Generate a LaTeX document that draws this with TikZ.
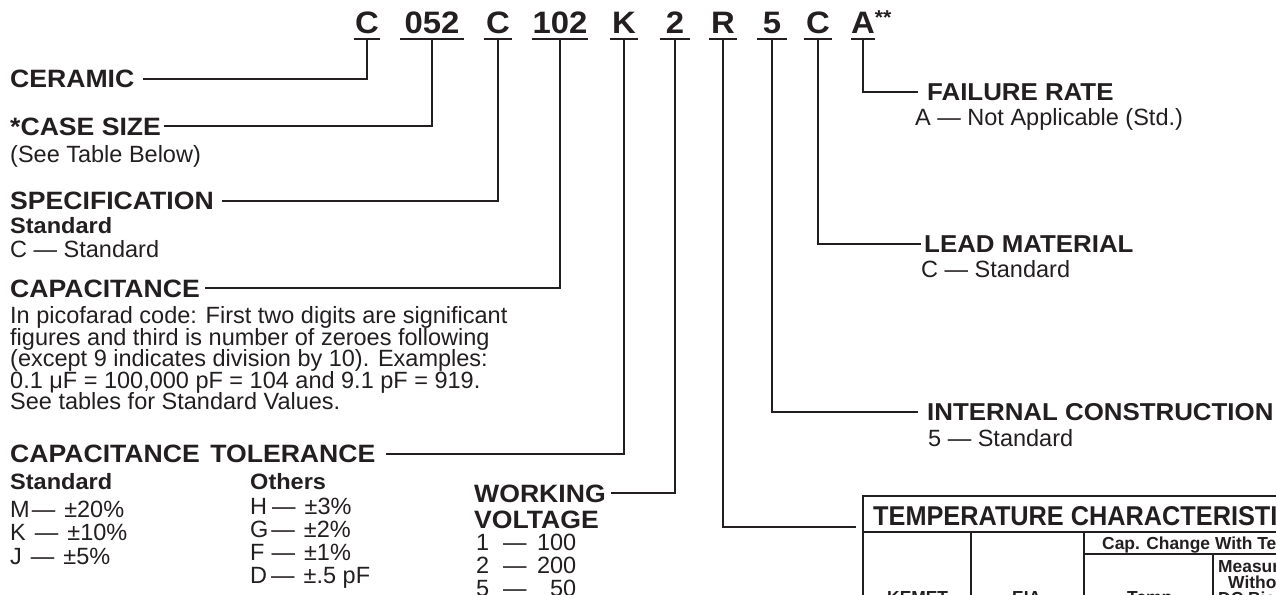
\documentclass[tikz,border=0pt]{standalone}
\usepackage{fontspec}
\setmainfont{Liberation Sans}
\newfontfamily\hdfam{Liberation Sans}[FakeStretch=1.06]
\newfontfamily\ttlfam{Liberation Sans}[FakeStretch=0.93]
\definecolor{ink}{RGB}{35,31,32}
\newcommand\codef{\hdfam\bfseries\fontsize{31}{31}\selectfont}
\newcommand\hdf{\hdfam\bfseries\fontsize{24.4}{24.4}\selectfont}
\newcommand\hdlf{\hdfam\bfseries\fontsize{25.1}{25}\selectfont}
\newcommand\subf{\hdfam\bfseries\fontsize{22.2}{22}\selectfont}
\newcommand\bodyf{\fontsize{23.5}{21.6}\selectfont}
\newcommand\ttlf{\ttlfam\bfseries\fontsize{27.2}{27}\selectfont}
\newcommand\tbf{\bfseries\fontsize{17.4}{16}\selectfont}
\tikzset{
  code/.style={font=\codef, inner sep=0pt, anchor=base, text depth=5.5pt, minimum width=#1},
  hd/.style={font=\hdf, inner sep=0pt, anchor=base west},
  hdl/.style={font=\hdlf, inner sep=0pt, anchor=base west},
  sub/.style={font=\subf, inner sep=0pt, anchor=base west},
  txt/.style={font=\bodyf, inner sep=0pt, anchor=base west},
  tb/.style={font=\tbf, inner sep=0pt, anchor=base west},
  conn/.style={line width=2pt},
  uline/.style={line width=2pt},
  tblouter/.style={line width=2.6pt},
  tblinner/.style={line width=2pt},
}
\begin{document}
\begin{tikzpicture}[x=1pt,y=-1pt,color=ink,text=ink]
\useasboundingbox (0,0) rectangle (1276,594);
\clip (0,0) rectangle (1276,594);
\fill[white] (0,0) rectangle (1276,594);

% code letters
\node[code=25pt] (c1) at (367,33.5) {C};
\node[code=64pt] (c2) at (432,33.5) {052};
\node[code=27pt] (c3) at (498,33.5) {C};
\node[code=56pt] (c4) at (560,33.5) {102};
\node[code=28pt] (c5) at (624,33.5) {K};
\node[code=29pt] (c6) at (675,33.5) {2};
\node[code=28pt] (c7) at (723,33.5) {R};
\node[code=30pt] (c8) at (772,33.5) {5};
\node[code=28pt] (c9) at (818,33.5) {C};
\node[code=23pt] (c10) at (863,33.5) {A\rlap{\raisebox{9pt}{\fontsize{20}{20}\selectfont **}}};
\foreach \n in {c1,c2,c3,c4,c5,c6,c7,c8,c9,c10}
  \draw[uline] (\n.south west) -- (\n.south east);

% left labels
\node[hdl] (ceramic) at (10,87.5) {CERAMIC};
\node[hdl] (casesize) at (10,135) {*CASE SIZE};
\node[txt] (seetbl) at (10,162) {(See Table Below)};
\node[hdl] (spec) at (10,209.5) {SPECIFICATION};
\node[sub] (specstd) at (10,233) {Standard};
\node[txt] (specc) at (10,257) {C — Standard};
\node[hdl] (cap) at (10,297) {CAPACITANCE};
\node[txt] (capa) at (10,323.5) {In picofarad code: First two digits are significant};
\node[txt] (capb) at (10,345) {figures and third is number of zeroes following};
\node[txt] (capc) at (10,366.5) {(except 9 indicates division by 10). Examples:};
\node[txt] (capd) at (10,388) {0.1 μF = 100,000 pF = 104 and 9.1 pF = 919.};
\node[txt] (cape) at (10,409.5) {See tables for Standard Values.};
\node[hdl] (tol) at (10,462.5) {CAPACITANCE\hspace{3pt} TOLERANCE};
\node[sub] (tolstd) at (10,489) {Standard};
\node[sub] (toloth) at (250,489) {Others};
\node[txt] (tolm) at (10,517) {M\hspace{2pt}—\hspace{9pt}±20\%};
\node[txt] (tolk) at (10,540.5) {K\hspace{9pt}—\hspace{9pt}±10\%};
\node[txt] (tolj) at (10,564) {J\hspace{9pt}—\hspace{9pt}±5\%};
\node[txt] (tolh) at (250,514) {H\hspace{5pt}—\hspace{9pt}±3\%};
\node[txt] (tolg) at (250,537) {G\hspace{3pt}—\hspace{9pt}±2\%};
\node[txt] (tolf) at (250,560) {F\hspace{7pt}—\hspace{9pt}±1\%};
\node[txt] (told) at (250,583) {D\hspace{4pt}—\hspace{9pt}±.5 pF};
\node[hdl] (wv) at (474,502) {WORKING};
\node[hdl] (wv2) at (474,528) {VOLTAGE};
\node[txt] (wva) at (476,550) {\makebox[27pt][l]{1}—\makebox[49.6pt][r]{100}};
\node[txt] (wvb) at (476,573) {\makebox[27pt][l]{2}—\makebox[49.6pt][r]{200}};
\node[txt] (wvc) at (476,596) {\makebox[27pt][l]{5}—\makebox[49.6pt][r]{50}};

% right labels
\node[hd] (fail) at (927,100) {FAILURE RATE};
\node[txt] (faila) at (915,125.5) {A — Not Applicable (Std.)};
\node[hd] (lead) at (924,252) {LEAD MATERIAL};
\node[txt] (leadc) at (921,277) {C — Standard};
\node[hd] (internal) at (927,420) {INTERNAL CONSTRUCTION};
\node[txt] (int5) at (928,446) {5 — Standard};

% table
\coordinate (tbl) at (856,527);
\draw[tblouter] (1290,496) -- (863,496) -- (863,600);
\draw[tblouter] (863,532) -- (1290,532);
\draw[tblinner] (971,532) -- (971,600);
\draw[tblinner] (1084,532) -- (1084,600);
\draw[tblinner] (1084,554) -- (1290,554);
\draw[tblinner] (1213,554) -- (1213,600);
\node[font=\ttlf, inner sep=0pt, anchor=base west] (ttl) at (873,525) {TEMPERATURE CHARACTERISTIC};
\node[tb] (capch) at (1102,549) {Cap. Change With Temperature};
\node[tb] (meas) at (1218,572) {Measured};
\node[tb] (with) at (1228,588) {Without};
\node[tb] (dcb) at (1218,604) {DC Bias};
\node[tb] (kemet) at (887,603.5) {KEMET};
\node[tb] (eia) at (1012,603.5) {EIA};
\node[tb] (temp) at (1127,603.5) {Temp};

% connectors
\draw[conn] (c1.south) |- ([xshift=8pt]ceramic.east);
\draw[conn] (c2.south) |- ([xshift=3pt]casesize.east);
\draw[conn] (c3.south) |- ([xshift=8pt]spec.east);
\draw[conn] (c4.south) |- ([xshift=5pt]cap.east);
\draw[conn] (c5.south) |- ([xshift=10pt]tol.east);
\draw[conn] (c6.south) |- ([xshift=5pt]wv.east);
\draw[conn] (c7.south) |- (tbl);
\draw[conn] (c8.south) |- ([xshift=-9pt]internal.west);
\draw[conn] (c9.south) |- ([xshift=-3pt]lead.west);
\draw[conn] (c10.south) |- ([xshift=-9pt]fail.west);
\end{tikzpicture}
\end{document}
